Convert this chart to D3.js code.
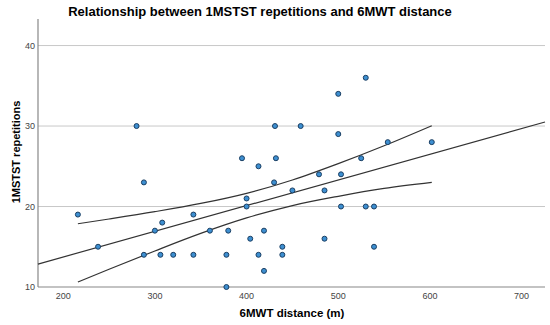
<html>
<head>
<script src="https://d3js.org/d3.v7.min.js"></script>
<style>
body { margin: 0; background: #fff; }
text { font-family: "Liberation Sans", Arial, sans-serif; }
</style>
</head>
<body>
<div id="chart"></div>
<script>
// 6MWT distance (m) and 1MSTST repetitions
var distance = [216, 280, 288, 342, 308, 300, 238, 360, 288, 306, 320, 342,
  530, 500, 431, 459, 500, 395, 432, 413, 525, 479, 503, 430, 450, 485,
  400, 400, 503, 530, 539, 380, 419, 404, 485, 439, 539, 378, 413, 439,
  419, 378, 554, 602];
var reps = [19, 30, 23, 19, 18, 17, 15, 17, 14, 14, 14, 14,
  36, 34, 30, 30, 29, 26, 26, 25, 26, 24, 24, 23, 22, 22,
  21, 20, 20, 20, 20, 17, 17, 16, 16, 15, 15, 14, 14, 14,
  12, 10, 28, 28];
var xTicks = [200, 300, 400, 500, 600, 700];
var yTicks = [10, 20, 30, 40];

// fit line (ends at the plot edges) and 95% CI of the mean
var fitX = [172.5, 725.5];
var fitY = [12.85, 30.5];
var bandX = [216, 250, 300, 350, 400, 450, 500, 550, 602];
var bandUpper = [17.86, 18.45, 19.36, 20.38, 21.64, 23.3, 25.33, 27.55, 30.04];
var bandLower = [10.62, 12.21, 14.48, 16.66, 18.58, 20.12, 21.27, 22.25, 23.0];

var width = 550, height = 325;
var margin = {top: 19, right: 5, bottom: 38, left: 38};

var svg = d3.select("#chart").append("svg")
  .attr("width", width)
  .attr("height", height);

var x = d3.scaleLinear().domain([172.5, 725.5]).range([margin.left, width - margin.right]);
var y = d3.scaleLinear().domain([10, 43.3]).range([height - margin.bottom, margin.top]);

// grid lines
svg.selectAll(".grid")
  .data(yTicks.filter(function(d){ return d > 10; }))
  .enter().append("line")
  .attr("x1", margin.left).attr("x2", width - margin.right)
  .attr("y1", function(d){ return y(d); })
  .attr("y2", function(d){ return y(d); })
  .attr("stroke", "#c8c8c8").attr("stroke-width", 1);

// axes
svg.append("line")
  .attr("x1", margin.left).attr("x2", margin.left)
  .attr("y1", margin.top).attr("y2", y(10))
  .attr("stroke", "#888").attr("stroke-width", 1.2);
svg.append("line")
  .attr("x1", margin.left).attr("x2", width - margin.right)
  .attr("y1", y(10)).attr("y2", y(10))
  .attr("stroke", "#888").attr("stroke-width", 1.2);

svg.selectAll(".ytick")
  .data(yTicks).enter().append("text")
  .attr("x", margin.left - 3)
  .attr("y", function(d){ return y(d); })
  .attr("dy", "0.35em")
  .attr("text-anchor", "end")
  .attr("font-size", 9)
  .attr("fill", "#444")
  .text(function(d){ return d; });

svg.selectAll(".xtick")
  .data(xTicks).enter().append("text")
  .attr("x", function(d){ return x(d); })
  .attr("y", y(10) + 12)
  .attr("text-anchor", "middle")
  .attr("font-size", 9)
  .attr("fill", "#444")
  .text(function(d){ return d; });

// fit line and confidence band
var line = d3.line()
  .x(function(d){ return x(d[0]); })
  .y(function(d){ return y(d[1]); });
var curve = d3.line()
  .x(function(d){ return x(d[0]); })
  .y(function(d){ return y(d[1]); })
  .curve(d3.curveMonotoneX);

svg.append("path")
  .attr("d", line(d3.zip(fitX, fitY)))
  .attr("fill", "none").attr("stroke", "#333").attr("stroke-width", 1.2);

[bandUpper, bandLower].forEach(function(b){
  svg.append("path")
    .attr("d", curve(d3.zip(bandX, b)))
    .attr("fill", "none").attr("stroke", "#333").attr("stroke-width", 1.2);
});

// points
svg.selectAll(".dot")
  .data(distance).enter().append("circle")
  .attr("cx", function(d){ return x(d); })
  .attr("cy", function(d, i){ return y(reps[i]); })
  .attr("r", 2.5)
  .attr("fill", "#3d8fd1")
  .attr("stroke", "#1b3f63")
  .attr("stroke-width", 1);

// titles
svg.append("text")
  .attr("x", 260).attr("y", 16)
  .attr("text-anchor", "middle")
  .attr("font-size", 13).attr("font-weight", "bold")
  .text("Relationship between 1MSTST repetitions and 6MWT distance");

svg.append("text")
  .attr("x", 292).attr("y", 317)
  .attr("text-anchor", "middle")
  .attr("font-size", 11.5).attr("font-weight", "bold")
  .text("6MWT distance (m)");

svg.append("text")
  .attr("transform", "translate(20,152) rotate(-90)")
  .attr("text-anchor", "middle")
  .attr("font-size", 11).attr("font-weight", "bold")
  .text("1MSTST repetitions");
</script>
</body>
</html>
